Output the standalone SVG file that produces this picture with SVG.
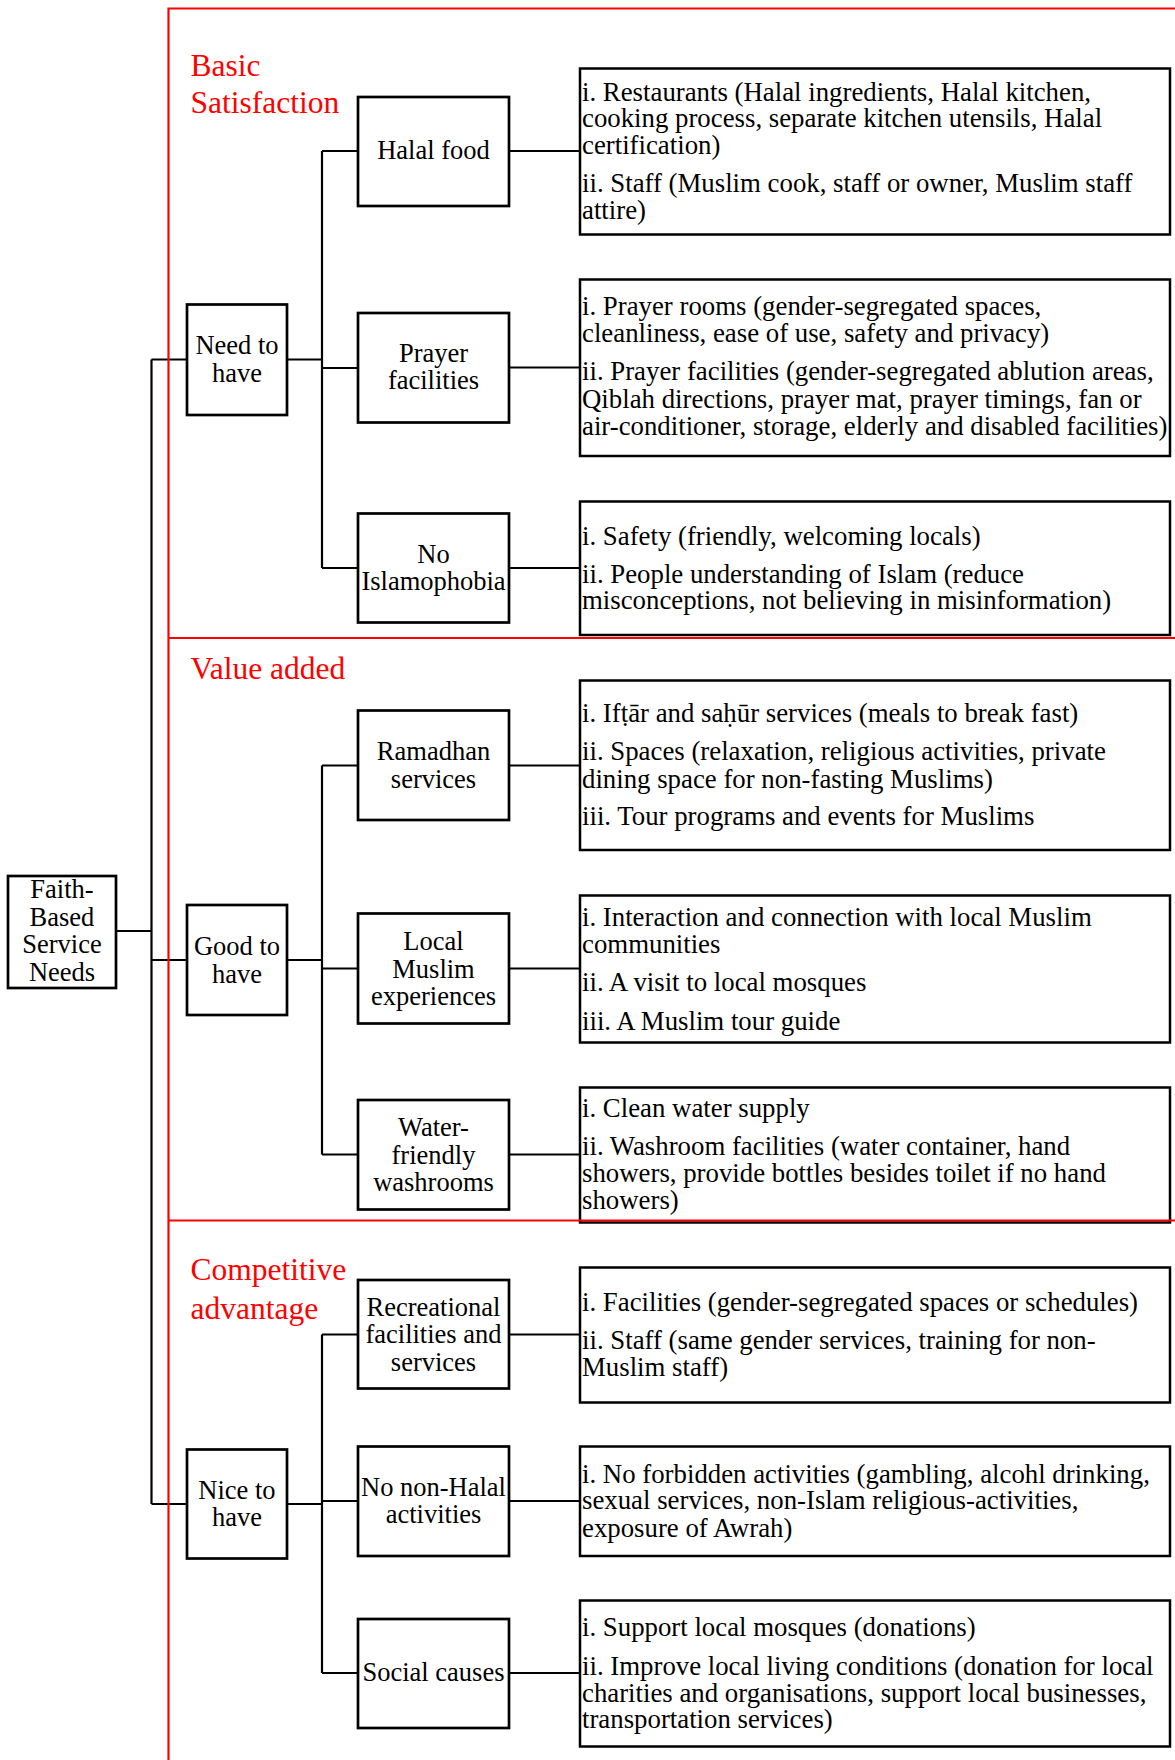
<svg xmlns="http://www.w3.org/2000/svg" width="1175" height="1760" viewBox="0 0 1175 1760">
<style>
.bg{fill:#fff}
.node{fill:#fff;stroke:#000;stroke-width:2.7}
.det{fill:#fff;stroke:#000;stroke-width:2.5}
.lbl{font-family:"Liberation Serif","Times New Roman",serif;font-size:26.5px;fill:#000;text-anchor:middle}
.txt{font-family:"Liberation Serif","Times New Roman",serif;font-size:26.8px;fill:#000}
.red{font-family:"Liberation Serif","Times New Roman",serif;font-size:31.5px;fill:#ff0000}
.conn path{fill:none;stroke:#000;stroke-width:2.2}
.zone path{fill:none;stroke:#ff0000;stroke-width:2.2}
</style>
<rect class="bg" x="0" y="0" width="1175" height="1760"/>

<g id="connectors" class="conn">
<path d="M116,931 H151.5"/>
<path d="M151.5,359.5 V1504"/>
<path d="M151.5,359.5 H187"/>
<path d="M151.5,960 H187"/>
<path d="M151.5,1504 H187"/>
<path d="M287,359.5 H322"/>
<path d="M322,151 V568"/>
<path d="M322,151 H358"/>
<path d="M322,368 H358"/>
<path d="M322,568 H358"/>
<path d="M287,960 H322"/>
<path d="M322,765.5 V1154.5"/>
<path d="M322,765.5 H358"/>
<path d="M322,968.5 H358"/>
<path d="M322,1154.5 H358"/>
<path d="M287,1504 H322"/>
<path d="M322,1334.5 V1673"/>
<path d="M322,1334.5 H358"/>
<path d="M322,1501 H358"/>
<path d="M322,1673 H358"/>
<path d="M509,151 H580"/>
<path d="M509,367.5 H580"/>
<path d="M509,568 H580"/>
<path d="M509,765.5 H580"/>
<path d="M509,968.5 H580"/>
<path d="M509,1154.5 H580"/>
<path d="M509,1334.5 H580"/>
<path d="M509,1501 H580"/>
<path d="M509,1673 H580"/>
</g>

<g id="root">
<rect class="node" x="8" y="876" width="108" height="112"/>
<text class="lbl" x="62" y="898"><tspan x="62">Faith-</tspan><tspan x="62" dy="27.5">Based</tspan><tspan x="62" dy="27.5">Service</tspan><tspan x="62" dy="27.5">Needs</tspan></text>
</g>

<g id="need-to-have">
<rect class="node" x="187" y="304.5" width="100" height="110.5"/>
<text class="lbl" x="237" y="354"><tspan x="237">Need to</tspan><tspan x="237" dy="27.5">have</tspan></text>
</g>
<g id="good-to-have">
<rect class="node" x="187" y="905" width="100" height="110"/>
<text class="lbl" x="237" y="955"><tspan x="237">Good to</tspan><tspan x="237" dy="27.5">have</tspan></text>
</g>
<g id="nice-to-have">
<rect class="node" x="187" y="1449.5" width="100" height="109"/>
<text class="lbl" x="237" y="1498.5"><tspan x="237">Nice to</tspan><tspan x="237" dy="27.5">have</tspan></text>
</g>

<g id="halal-food">
<rect class="node" x="358" y="97" width="151" height="109"/>
<text class="lbl" x="433.5" y="159">Halal food</text>
</g>
<g id="prayer-facilities">
<rect class="node" x="358" y="313" width="151" height="109.5"/>
<text class="lbl" x="433.5" y="361.5"><tspan x="433.5">Prayer</tspan><tspan x="433.5" dy="27.5">facilities</tspan></text>
</g>
<g id="no-islamophobia">
<rect class="node" x="358" y="513.5" width="151" height="109"/>
<text class="lbl" x="433.5" y="562.5"><tspan x="433.5">No</tspan><tspan x="433.5" dy="27.5">Islamophobia</tspan></text>
</g>
<g id="ramadhan-services">
<rect class="node" x="358" y="710.5" width="151" height="109.5"/>
<text class="lbl" x="433.5" y="760"><tspan x="433.5">Ramadhan</tspan><tspan x="433.5" dy="27.5">services</tspan></text>
</g>
<g id="local-muslim-experiences">
<rect class="node" x="358" y="913.5" width="151" height="110"/>
<text class="lbl" x="433.5" y="950"><tspan x="433.5">Local</tspan><tspan x="433.5" dy="27.5">Muslim</tspan><tspan x="433.5" dy="27.5">experiences</tspan></text>
</g>
<g id="water-friendly-washrooms">
<rect class="node" x="358" y="1100" width="151" height="109.5"/>
<text class="lbl" x="433.5" y="1136"><tspan x="433.5">Water-</tspan><tspan x="433.5" dy="27.5">friendly</tspan><tspan x="433.5" dy="27.5">washrooms</tspan></text>
</g>
<g id="recreational-facilities">
<rect class="node" x="358" y="1280" width="151" height="108.5"/>
<text class="lbl" x="433.5" y="1316"><tspan x="433.5">Recreational</tspan><tspan x="433.5" dy="27.3">facilities and</tspan><tspan x="433.5" dy="27.3">services</tspan></text>
</g>
<g id="no-non-halal">
<rect class="node" x="358" y="1446.5" width="151" height="109.5"/>
<text class="lbl" x="433.5" y="1495.5"><tspan x="433.5">No non-Halal</tspan><tspan x="433.5" dy="27.5">activities</tspan></text>
</g>
<g id="social-causes">
<rect class="node" x="358" y="1619" width="151" height="109"/>
<text class="lbl" x="433.5" y="1681">Social causes</text>
</g>

<g id="detail-halal">
<rect class="det" x="580" y="68.5" width="590" height="166"/>
<text class="txt" x="582" y="100.5"><tspan x="582">i. Restaurants (Halal ingredients, Halal kitchen,</tspan><tspan x="582" dy="26.7">cooking process, separate kitchen utensils, Halal</tspan><tspan x="582" dy="26.7">certification)</tspan><tspan x="582" dy="38.3">ii. Staff (Muslim cook, staff or owner, Muslim staff</tspan><tspan x="582" dy="26.7">attire)</tspan></text>
</g>
<g id="detail-prayer">
<rect class="det" x="580" y="279.5" width="590" height="176.5"/>
<text class="txt" x="582" y="315.3"><tspan x="582">i. Prayer rooms (gender-segregated spaces,</tspan><tspan x="582" dy="26.7">cleanliness, ease of use, safety and privacy)</tspan><tspan x="582" dy="38.3">ii. Prayer facilities (gender-segregated ablution areas,</tspan><tspan x="582" dy="27.5">Qiblah directions, prayer mat, prayer timings, fan or</tspan><tspan x="582" dy="26.7">air-conditioner, storage, elderly and disabled facilities)</tspan></text>
</g>
<g id="detail-islamophobia">
<rect class="det" x="580" y="501.5" width="590" height="133.5"/>
<text class="txt" x="582" y="545"><tspan x="582">i. Safety (friendly, welcoming locals)</tspan><tspan x="582" dy="37.7">ii. People understanding of Islam (reduce</tspan><tspan x="582" dy="26.7">misconceptions, not believing in misinformation)</tspan></text>
</g>
<g id="detail-ramadhan">
<rect class="det" x="580" y="680.5" width="590" height="169.5"/>
<text class="txt" x="582" y="722"><tspan x="582">i. Ifṭār and saḥūr services (meals to break fast)</tspan><tspan x="582" dy="38">ii. Spaces (relaxation, religious activities, private</tspan><tspan x="582" dy="27.7">dining space for non-fasting Muslims)</tspan><tspan x="582" dy="37.6">iii. Tour programs and events for Muslims</tspan></text>
</g>
<g id="detail-local">
<rect class="det" x="580" y="895.5" width="590" height="147"/>
<text class="txt" x="582" y="926"><tspan x="582">i. Interaction and connection with local Muslim</tspan><tspan x="582" dy="26.7">communities</tspan><tspan x="582" dy="38.3">ii. A visit to local mosques</tspan><tspan x="582" dy="38.8">iii. A Muslim tour guide</tspan></text>
</g>
<g id="detail-water">
<rect class="det" x="580" y="1087.5" width="590" height="135"/>
<text class="txt" x="582" y="1116.5"><tspan x="582">i. Clean water supply</tspan><tspan x="582" dy="38">ii. Washroom facilities (water container, hand</tspan><tspan x="582" dy="27.4">showers, provide bottles besides toilet if no hand</tspan><tspan x="582" dy="26.6">showers)</tspan></text>
</g>
<g id="detail-recreational">
<rect class="det" x="580" y="1267.5" width="590" height="135"/>
<text class="txt" x="582" y="1311"><tspan x="582">i. Facilities (gender-segregated spaces or schedules)</tspan><tspan x="582" dy="38">ii. Staff (same gender services, training for non-</tspan><tspan x="582" dy="26.7">Muslim staff)</tspan></text>
</g>
<g id="detail-nonhalal">
<rect class="det" x="580" y="1446.5" width="590" height="109.5"/>
<text class="txt" x="582" y="1482.7"><tspan x="582">i. No forbidden activities (gambling, alcohl drinking,</tspan><tspan x="582" dy="26.7">sexual services, non-Islam religious-activities,</tspan><tspan x="582" dy="27.3">exposure of Awrah)</tspan></text>
</g>
<g id="detail-social">
<rect class="det" x="580" y="1600.5" width="590" height="146"/>
<text class="txt" x="582" y="1636"><tspan x="582">i. Support local mosques (donations)</tspan><tspan x="582" dy="38.5">ii. Improve local living conditions (donation for local</tspan><tspan x="582" dy="27">charities and organisations, support local businesses,</tspan><tspan x="582" dy="26.7">transportation services)</tspan></text>
</g>

<g id="zones" class="zone">
<path d="M168.5,1760 V8.5 H1175"/>
<path d="M168.5,638 H1175"/>
<path d="M168.5,1220.5 H1175"/>
</g>
<g id="zone-labels">
<text class="red" x="190.5" y="76"><tspan x="190.5">Basic</tspan><tspan x="190.5" dy="37">Satisfaction</tspan></text>
<text class="red" x="190.5" y="679">Value added</text>
<text class="red" x="190.5" y="1280"><tspan x="190.5">Competitive</tspan><tspan x="190.5" dy="39">advantage</tspan></text>
</g>
</svg>
